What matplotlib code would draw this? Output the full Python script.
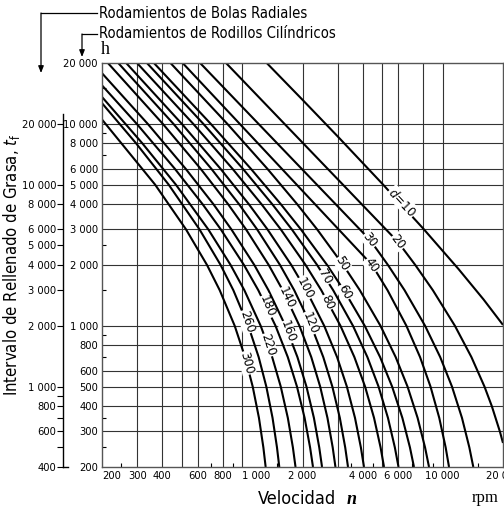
import matplotlib
matplotlib.use("Agg")
import matplotlib.pyplot as plt
from matplotlib.lines import Line2D
from matplotlib.patches import FancyArrowPatch
from matplotlib.ticker import FixedLocator, NullFormatter

plt.rcParams["font.family"] = ["DejaVu Sans"]
plt.rcParams["font.stretch"] = "condensed"

# curve crossings: speed n (rpm) vs interval t (h)
t_levels = [20000, 10000, 6000, 4000, 3000, 2000, 1500, 1000, 700, 500, 350, 250, 200]

n_d10 = [1326, 2000, 3000, 5000, 8000, 12000, 16000, 20000]
t_d10 = [20000, 13150, 8650, 5050, 3030, 1910, 1350, 1010]
n_d20 = [831, 1625, 3180, 5990, 7304, 8938, 11512, 13917, 16169, 17592, 19290, 20000]
t_d20 = [20000, 10000, 5000, 2600, 2000, 1500, 1000, 700, 500, 400, 300, 263]
n_d30 = [617, 1206, 2358, 4343, 5337, 6458, 8173, 9724, 11133, 12487, 13589, 14220]
t_d30 = [20000, 10000, 5000, 2660, 2000, 1500, 1000, 700, 500, 350, 250, 200]
n_d40 = [505, 972, 1870, 3029, 4444, 5310, 6595, 7715, 8700, 9620, 10351, 10760]
t_d40 = [20000, 10000, 5000, 3000, 2000, 1500, 1000, 700, 500, 350, 250, 200]
n_d50 = [439, 843, 1334, 1881, 2367, 3191, 3864, 4897, 5831, 6682, 7502, 8170, 8552]
n_d60 = [363, 697, 1104, 1559, 1964, 2653, 3217, 4086, 4876, 5598, 6297, 6869, 7194]
n_d70 = [335, 640, 1007, 1413, 1770, 2366, 2845, 3571, 4214, 4790, 5337, 5776, 6024]
n_d80 = [299, 570, 894, 1249, 1559, 2073, 2482, 3093, 3629, 4103, 4548, 4903, 5100]
n_d100 = [264, 500, 779, 1080, 1338, 1759, 2087, 2566, 2975, 3329, 3655, 3910, 4052]
n_d120 = [241, 454, 701, 965, 1188, 1545, 1819, 2211, 2539, 2818, 3071, 3266, 3373]
n_d140 = [214, 402, 620, 851, 1046, 1357, 1594, 1931, 2212, 2450, 2664, 2829, 2920]
n_d160 = [200, 338, 522, 719, 884, 1150, 1353, 1644, 1887, 2093, 2280, 2424, 2503]
t_d160 = [17800, 10000, 6000, 4000, 3000, 2000, 1500, 1000, 700, 500, 350, 250, 200]
n_d180 = [200, 298, 461, 635, 783, 1021, 1204, 1467, 1689, 1877, 2049, 2182, 2256]
t_d180 = [15500, 10000, 6000, 4000, 3000, 2000, 1500, 1000, 700, 500, 350, 250, 200]
n_d220 = [200, 318, 467, 678, 876, 1026, 1237, 1412, 1558, 1690, 1791, 1846]
t_d220 = [13580, 8000, 5000, 3000, 2000, 1500, 1000, 700, 500, 350, 250, 200]
n_d260 = [200, 296, 430, 613, 781, 904, 1073, 1209, 1320, 1418, 1492, 1532]
t_d260 = [12650, 8000, 5000, 3000, 2000, 1500, 1000, 700, 500, 350, 250, 200]
n_d300 = [200, 368, 525, 668, 773, 918, 1034, 1129, 1213, 1276, 1310]
t_d300 = [10500, 5000, 3000, 2000, 1500, 1000, 700, 500, 350, 250, 200]

# label text, position (n, t) and angle
curve_labels = ["$d$=10", "20", "30", "40", "50", "60", "70", "80", "100", "120",
                "140", "160", "180", "220", "260", "300"]
label_n = [6300, 5990, 4343, 4444, 3166, 3258, 2590, 2681, 2058, 2180,
           1668, 1693, 1326, 1346, 1054, 1054]
label_t = [4100, 2600, 2660, 2000, 2023, 1470, 1744, 1312, 1538, 1033,
           1373, 932, 1244, 804, 1048, 655]
label_rot = [-47, -52, -52, -55, -58, -62, -60, -65, -63, -68,
             -65, -70, -68, -72, -72, -75]

x_ticks = [200, 300, 400, 600, 800, 1000, 2000, 4000, 6000, 10000, 20000]
x_grid = [300, 400, 500, 600, 800, 1000, 2000, 3000, 4000, 5000, 6000, 8000, 10000]
x_minor = [250, 700, 900, 1500, 3500, 4500, 7000, 9000, 15000]
y_ticks = [200, 300, 400, 500, 600, 800, 1000, 2000, 3000, 4000, 5000, 6000, 8000, 10000, 20000]
y_grid = [300, 400, 500, 600, 800, 1000, 2000, 3000, 4000, 5000, 6000, 8000, 10000]
y_minor = [250, 350, 700, 900, 1500, 2500, 7000, 9000, 15000]
ball_ticks = [400, 600, 800, 1000, 2000, 3000, 4000, 5000, 6000, 8000, 10000, 20000]
ball_minor = [500, 700, 900]


def fmt(v):
    return f"{v:,}".replace(",", " ")


curves = [
    (n_d10, t_d10), (n_d20, t_d20), (n_d30, t_d30), (n_d40, t_d40),
    (n_d50, t_levels), (n_d60, t_levels), (n_d70, t_levels), (n_d80, t_levels),
    (n_d100, t_levels), (n_d120, t_levels), (n_d140, t_levels),
    (n_d160, t_d160), (n_d180, t_d180), (n_d220, t_d220), (n_d260, t_d260),
    (n_d300, t_d300),
]

W, H = 504, 511
fig = plt.figure(figsize=(W / 100, H / 100), dpi=100)
ax = fig.add_axes([102 / W, 1 - 467 / H, 401 / W, 404 / H])
ax.set_xscale("log")
ax.set_yscale("log")
ax.set_xlim(200, 20000)
ax.set_ylim(200, 20000)

for v in x_grid:
    ax.axvline(v, color="#333333", lw=0.8, zorder=1)
for v in y_grid:
    ax.axhline(v, color="#333333", lw=0.8, zorder=1)

for n, t in curves:
    ax.plot(n, t, color="black", lw=1.5, zorder=2, solid_capstyle="butt")

for txt, n, t, r in zip(curve_labels, label_n, label_t, label_rot):
    ax.text(n, t, txt, rotation=r, rotation_mode="anchor", ha="center", va="center",
            fontsize=9.5, zorder=3,
            bbox=dict(facecolor="white", edgecolor="none", pad=0.5))

ax.xaxis.set_major_locator(FixedLocator(x_ticks))
xlabels = ax.set_xticklabels([fmt(v) for v in x_ticks])
xlabels[0].set_ha("left")
xlabels[5].set_ha("left")
ax.xaxis.set_minor_locator(FixedLocator(x_minor))
ax.xaxis.set_minor_formatter(NullFormatter())
ax.yaxis.set_major_locator(FixedLocator(y_ticks))
ax.set_yticklabels([fmt(v) for v in y_ticks])
ax.yaxis.set_minor_locator(FixedLocator(y_minor))
ax.yaxis.set_minor_formatter(NullFormatter())
ax.tick_params(which="major", length=0, labelsize=8, pad=3)
ax.tick_params(which="minor", direction="in", length=3, width=0.8)
for s in ax.spines.values():
    s.set_linewidth(1.0)
    s.set_color("#555555")

# outer axis for ball bearings (twice the roller value)
sec = ax.secondary_yaxis(-39 / 401, functions=(lambda y: y * 2, lambda y: y / 2))
sec.yaxis.set_major_locator(FixedLocator(ball_ticks))
sec.set_yticklabels([fmt(v) for v in ball_ticks])
sec.yaxis.set_minor_locator(FixedLocator(ball_minor))
sec.yaxis.set_minor_formatter(NullFormatter())
sec.tick_params(which="both", direction="out", length=4, width=0.8, labelsize=8, pad=1)
sec.spines["left"].set_bounds(400, 22400)
sec.spines["left"].set_linewidth(1.0)

fig.text(12 / W, 1 - 265 / H, "Intervalo de Rellenado de Grasa, $t_{\\rm f}$",
         rotation=90, ha="center", va="center", fontsize=12)
fig.text(297 / W, 1 - 499 / H, "Velocidad", ha="center", va="center", fontsize=13)
fig.text(352 / W, 1 - 500 / H, "n", ha="center", va="center",
         fontsize=13, family="Liberation Serif", style="italic", weight="bold")
fig.text(485 / W, 1 - 498 / H, "rpm", ha="center", va="center", fontsize=12,
         family="Liberation Serif")
fig.text(101 / W, 1 - 50 / H, "h", ha="left", va="center", fontsize=13,
         family="Liberation Serif")

fig.text(99 / W, 1 - 13 / H, "Rodamientos de Bolas Radiales", ha="left", va="center",
         fontsize=10.6)
fig.text(99 / W, 1 - 34 / H, "Rodamientos de Rodillos Cilíndricos", ha="left",
         va="center", fontsize=10.6)

fig.add_artist(Line2D([97 / W, 41 / W], [1 - 13 / H, 1 - 13 / H], color="black", lw=0.9))
fig.add_artist(Line2D([97 / W, 82 / W], [1 - 34 / H, 1 - 34 / H], color="black", lw=0.9))
fig.add_artist(Line2D([63 / W, 68 / W], [1 - 467 / H, 1 - 467 / H], color="black", lw=1.0))
for x0, y0, y1 in [(41, 13, 73), (82, 34, 57)]:
    fig.add_artist(FancyArrowPatch(
        (x0 / W, 1 - y0 / H), (x0 / W, 1 - y1 / H), transform=fig.transFigure,
        arrowstyle="-|>,head_length=4,head_width=1.6", color="black", lw=0.9,
        shrinkA=0, shrinkB=0))

fig.savefig("out.png", dpi=100)
